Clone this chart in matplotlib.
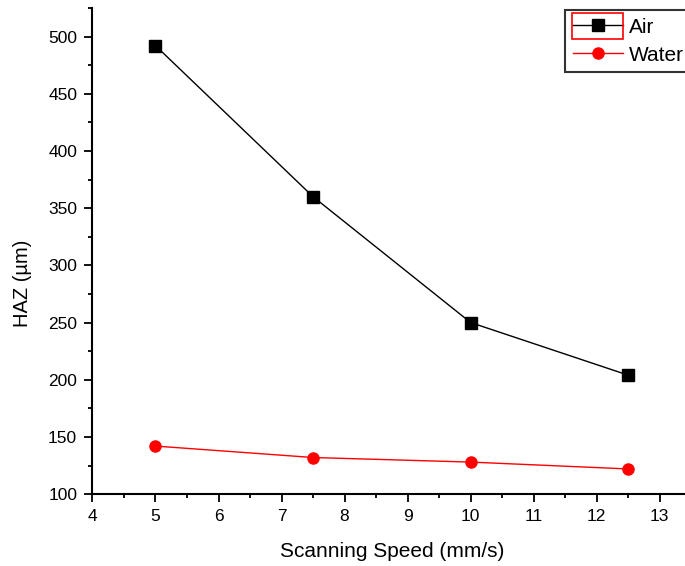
import matplotlib.pyplot as plt
import matplotlib.patches as mpatches
from matplotlib.ticker import MultipleLocator

plt.rcParams['font.family'] = ['Liberation Sans', 'DejaVu Sans']

speed = [5, 7.5, 10, 12.5]
haz_air = [492, 360, 250, 204]
haz_water = [142, 132, 128, 122]

fig = plt.figure(figsize=(6.85, 5.66), dpi=100)
ax = fig.add_axes([0.135, 0.127, 0.874, 0.859])

ax.plot(speed, haz_air, color='black', lw=1, marker='s', ms=8, label='Air')
ax.plot(speed, haz_water, color='red', lw=1, marker='o', ms=8, label='Water')

ax.set_xlim(4, 13.5)
ax.set_ylim(100, 525)
ax.xaxis.set_major_locator(MultipleLocator(1))
ax.xaxis.set_minor_locator(MultipleLocator(0.5))
ax.yaxis.set_major_locator(MultipleLocator(50))
ax.yaxis.set_minor_locator(MultipleLocator(25))
ax.tick_params(which='major', direction='out', length=6, width=1.3, labelsize=12.5, pad=5)
ax.tick_params(which='minor', direction='out', length=3, width=1.3)
for s in ['left', 'bottom']:
    ax.spines[s].set_linewidth(1.5)
ax.spines['top'].set_visible(False)
ax.spines['right'].set_visible(False)

ax.set_xlabel('Scanning Speed (mm/s)', fontsize=15, labelpad=13)
ax.set_ylabel('HAZ (µm)', fontsize=14.5)
ax.yaxis.set_label_coords(-0.101, 0.434)

leg = ax.legend(loc='upper left', bbox_to_anchor=(0.789, 0.996), fontsize=15,
                frameon=True, fancybox=False, edgecolor='black',
                handlelength=2.4, handletextpad=0.3, borderpad=0.38,
                labelspacing=0.42, borderaxespad=0)
leg.get_frame().set_linewidth(1.5)

# red selection box around the Air legend sample
fig.add_artist(mpatches.Rectangle((572 / 685, 1 - 39 / 566), 51 / 685, 26 / 566,
                                  transform=fig.transFigure, fill=False,
                                  edgecolor='red', lw=1.2))

fig.savefig('out.png', dpi=100)
